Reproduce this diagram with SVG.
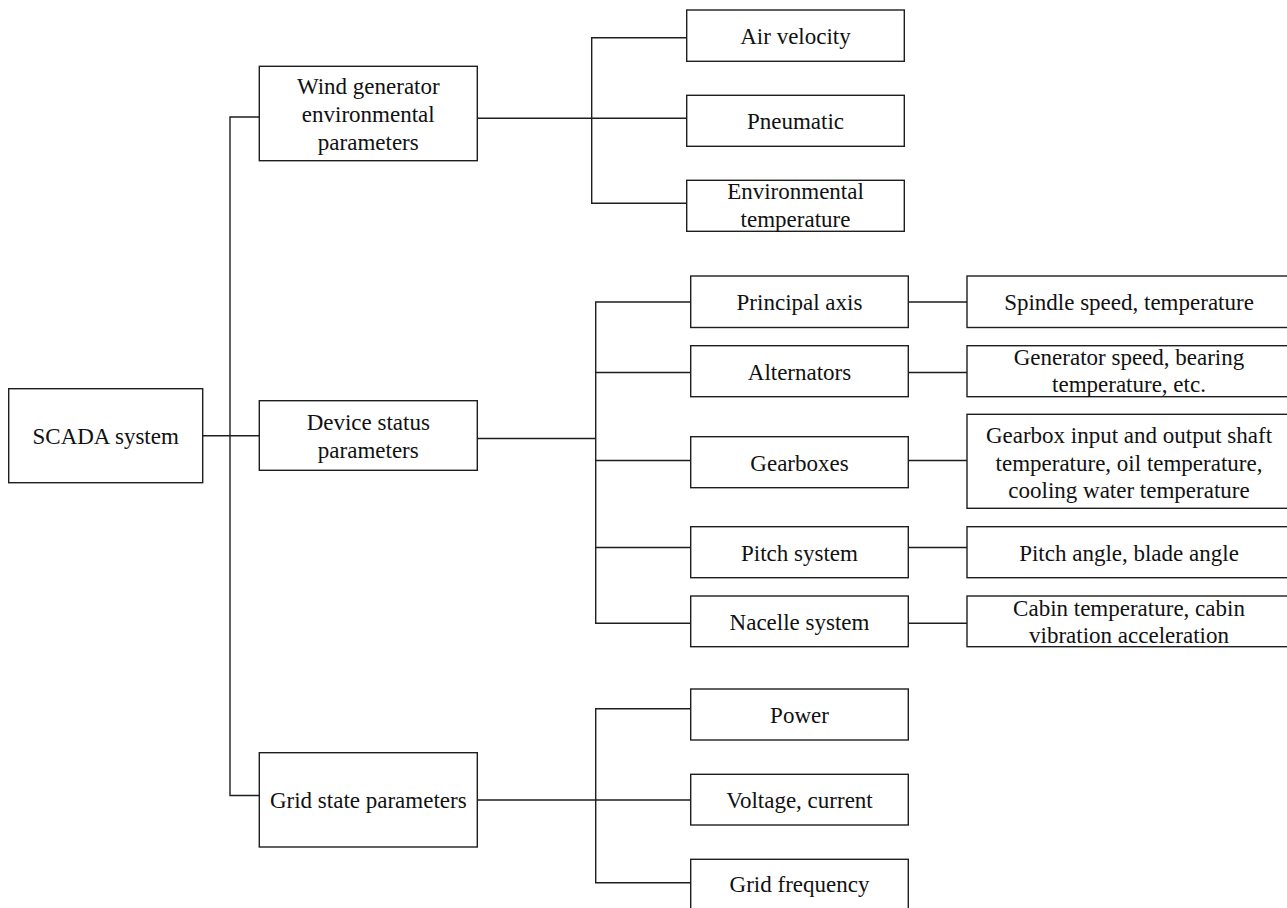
<svg xmlns="http://www.w3.org/2000/svg" width="1287" height="908" viewBox="0 0 1287 908">
<style>
.b{fill:#fff;stroke:#1e1e1e;stroke-width:1.4}
.c{fill:none;stroke:#1e1e1e;stroke-width:1.4}
text{font-family:"Liberation Serif","Times New Roman",serif;font-size:23px;fill:#111;text-anchor:middle}
</style>
<rect width="1287" height="908" fill="#fff"/>
<g id="connectors">
<path class="c" d="M202.7,435.7 H259.3"/>
<path class="c" d="M259.3,117 H230 V795.5 H259.3"/>
<path class="c" d="M477.3,118.3 H686.7"/>
<path class="c" d="M686.7,37.7 H591.7 V203.3 H686.7"/>
<path class="c" d="M477.3,438.5 H595.7"/>
<path class="c" d="M690.7,302 H595.7 V623.3 H690.7"/>
<path class="c" d="M595.7,372.5 H690.7 M595.7,460.5 H690.7 M595.7,547.5 H690.7"/>
<path class="c" d="M908.3,302 H967 M908.3,372.5 H967 M908.3,460.5 H967 M908.3,547.5 H967 M908.3,623.3 H967"/>
<path class="c" d="M477.3,800 H690.7"/>
<path class="c" d="M690.7,708.7 H595.7 V882.7 H690.7"/>
</g>
<g id="scada"><rect class="b" x="8.7" y="388.7" width="194" height="94"/><text x="105.7" y="444">SCADA system</text></g>
<g id="wind"><rect class="b" x="259.3" y="66.3" width="218" height="94.4"/><text x="368.3" y="93.5">Wind generator</text><text x="368.3" y="121.5">environmental</text><text x="368.3" y="149.5">parameters</text></g>
<g id="device"><rect class="b" x="259.3" y="400.7" width="218" height="69.6"/><text x="368.3" y="430">Device status</text><text x="368.3" y="457.5">parameters</text></g>
<g id="grid"><rect class="b" x="259.3" y="752.7" width="218" height="94.3"/><text x="368.3" y="808.3">Grid state parameters</text></g>
<g id="air"><rect class="b" x="686.7" y="10" width="217.6" height="51.3"/><text x="795.5" y="43.5">Air velocity</text></g>
<g id="pneumatic"><rect class="b" x="686.7" y="95.3" width="217.6" height="51"/><text x="795.5" y="128.5">Pneumatic</text></g>
<g id="envtemp"><rect class="b" x="686.7" y="180.3" width="217.6" height="51"/><text x="795.5" y="199.3">Environmental</text><text x="795.5" y="226.7">temperature</text></g>
<g id="principal"><rect class="b" x="690.7" y="276" width="217.6" height="51.5"/><text x="799.5" y="310">Principal axis</text></g>
<g id="alternators"><rect class="b" x="690.7" y="345.7" width="217.6" height="51"/><text x="799.5" y="379.5">Alternators</text></g>
<g id="gearboxes"><rect class="b" x="690.7" y="436.7" width="217.6" height="51"/><text x="799.5" y="470.5">Gearboxes</text></g>
<g id="pitch"><rect class="b" x="690.7" y="526.7" width="217.6" height="51"/><text x="799.5" y="561">Pitch system</text></g>
<g id="nacelle"><rect class="b" x="690.7" y="596" width="217.6" height="50.7"/><text x="799.5" y="630">Nacelle system</text></g>
<g id="spindle"><rect class="b" x="967" y="276" width="324" height="51.5"/><text x="1129" y="310">Spindle speed, temperature</text></g>
<g id="generator"><rect class="b" x="967" y="345.7" width="324" height="51"/><text x="1129" y="365">Generator speed, bearing</text><text x="1129" y="392">temperature, etc.</text></g>
<g id="gearboxdetail"><rect class="b" x="967" y="414.3" width="324" height="94"/><text x="1129" y="442.5">Gearbox input and output shaft</text><text x="1129" y="470.5">temperature, oil temperature,</text><text x="1129" y="498">cooling water temperature</text></g>
<g id="pitchangle"><rect class="b" x="967" y="526.7" width="324" height="51"/><text x="1129" y="561">Pitch angle, blade angle</text></g>
<g id="cabin"><rect class="b" x="967" y="596" width="324" height="50.7"/><text x="1129" y="615.5">Cabin temperature, cabin</text><text x="1129" y="642.5">vibration acceleration</text></g>
<g id="power"><rect class="b" x="690.7" y="689" width="217.6" height="51"/><text x="799.5" y="722.7">Power</text></g>
<g id="voltage"><rect class="b" x="690.7" y="774.3" width="217.6" height="50.7"/><text x="799.5" y="808.3">Voltage, current</text></g>
<g id="gridfreq"><rect class="b" x="690.7" y="859.3" width="217.6" height="51"/><text x="799.5" y="892.3">Grid frequency</text></g>
</svg>
